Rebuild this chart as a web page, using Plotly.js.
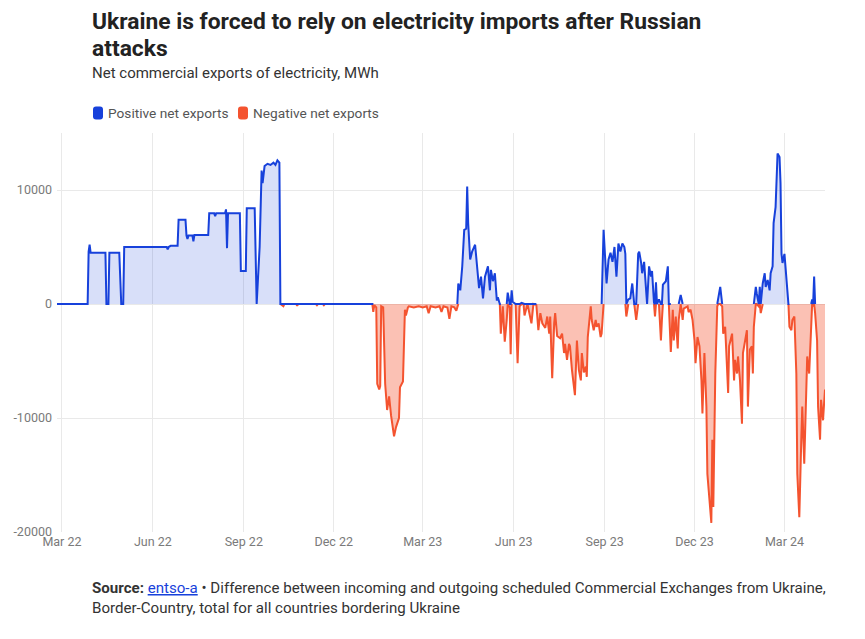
<!DOCTYPE html>
<html>
<head>
<meta charset="utf-8">
<script src="https://cdn.plot.ly/plotly-3.0.1.min.js"></script>
<style>
  html, body { margin: 0; padding: 0; background: #ffffff; }
  #chart { width: 865px; height: 639px; }
</style>
</head>
<body>
<div id="chart"></div>
<script>
// Ukraine net commercial electricity exports (MWh)

const dates = [
  "2022-02-24", "2022-03-27", "2022-03-28", "2022-03-29", "2022-03-30", "2022-04-14", "2022-04-15", "2022-04-17",
  "2022-04-18", "2022-04-28", "2022-04-30", "2022-05-02", "2022-05-03", "2022-06-15", "2022-06-16", "2022-06-17",
  "2022-06-19", "2022-06-26", "2022-06-27", "2022-07-04", "2022-07-05", "2022-07-06", "2022-07-07", "2022-07-11",
  "2022-07-12", "2022-07-13", "2022-07-27", "2022-07-28", "2022-08-02", "2022-08-03", "2022-08-04", "2022-08-13",
  "2022-08-14", "2022-08-15", "2022-08-16", "2022-08-28", "2022-08-29", "2022-09-03", "2022-09-04", "2022-09-12",
  "2022-09-14", "2022-09-17", "2022-09-19", "2022-09-20", "2022-09-22", "2022-09-25", "2022-09-28", "2022-10-01",
  "2022-10-03", "2022-10-05", "2022-10-07", "2022-10-08", "2022-10-11", "2022-10-12", "2022-10-24", "2022-10-25",
  "2022-10-26", "2022-11-13", "2022-11-14", "2022-11-15", "2022-11-20", "2022-11-21", "2022-11-22", "2023-01-09",
  "2023-01-10", "2023-01-11", "2023-01-13", "2023-01-14", "2023-01-16", "2023-01-17", "2023-01-18", "2023-01-20",
  "2023-01-22", "2023-01-24", "2023-01-26", "2023-01-28", "2023-01-31", "2023-02-02", "2023-02-05", "2023-02-06",
  "2023-02-09", "2023-02-11", "2023-02-12", "2023-02-14", "2023-02-15", "2023-02-20", "2023-02-25", "2023-03-01",
  "2023-03-05", "2023-03-07", "2023-03-09", "2023-03-14", "2023-03-18", "2023-03-20", "2023-03-22", "2023-03-26",
  "2023-03-28", "2023-03-30", "2023-04-02", "2023-04-04", "2023-04-05", "2023-04-06", "2023-04-08", "2023-04-10",
  "2023-04-12", "2023-04-14", "2023-04-15", "2023-04-16", "2023-04-18", "2023-04-20", "2023-04-23", "2023-04-25",
  "2023-04-27", "2023-04-29", "2023-05-01", "2023-05-03", "2023-05-06", "2023-05-08", "2023-05-09", "2023-05-11",
  "2023-05-13", "2023-05-15", "2023-05-16", "2023-05-18", "2023-05-19", "2023-05-21", "2023-05-23", "2023-05-25",
  "2023-05-26", "2023-05-28", "2023-05-29", "2023-05-30", "2023-05-31", "2023-06-03", "2023-06-05", "2023-06-07",
  "2023-06-09", "2023-06-11", "2023-06-12", "2023-06-15", "2023-06-19", "2023-06-21", "2023-06-24", "2023-06-26",
  "2023-06-28", "2023-06-30", "2023-07-03", "2023-07-05", "2023-07-07", "2023-07-08", "2023-07-10", "2023-07-12",
  "2023-07-13", "2023-07-15", "2023-07-18", "2023-07-20", "2023-07-22", "2023-07-23", "2023-07-25", "2023-07-27",
  "2023-07-28", "2023-07-30", "2023-08-02", "2023-08-04", "2023-08-06", "2023-08-08", "2023-08-09", "2023-08-11",
  "2023-08-13", "2023-08-14", "2023-08-15", "2023-08-18", "2023-08-19", "2023-08-21", "2023-08-23", "2023-08-24",
  "2023-08-26", "2023-08-28", "2023-08-29", "2023-08-31", "2023-09-03", "2023-09-05", "2023-09-07", "2023-09-09",
  "2023-09-11", "2023-09-13", "2023-09-15", "2023-09-17", "2023-09-19", "2023-09-21", "2023-09-22", "2023-09-23",
  "2023-09-25", "2023-09-27", "2023-09-29", "2023-10-01", "2023-10-02", "2023-10-03", "2023-10-05", "2023-10-06",
  "2023-10-08", "2023-10-09", "2023-10-11", "2023-10-13", "2023-10-14", "2023-10-16", "2023-10-18", "2023-10-19",
  "2023-10-21", "2023-10-22", "2023-10-23", "2023-10-24", "2023-10-26", "2023-10-28", "2023-10-29", "2023-10-30",
  "2023-11-02", "2023-11-04", "2023-11-05", "2023-11-07", "2023-11-09", "2023-11-10", "2023-11-12", "2023-11-14",
  "2023-11-15", "2023-11-17", "2023-11-19", "2023-11-20", "2023-11-24", "2023-11-25", "2023-11-27", "2023-11-29",
  "2023-12-01", "2023-12-02", "2023-12-04", "2023-12-06", "2023-12-08", "2023-12-09", "2023-12-11", "2023-12-13",
  "2023-12-14", "2023-12-16", "2023-12-18", "2023-12-19", "2023-12-20", "2023-12-22", "2023-12-24", "2023-12-25",
  "2023-12-27", "2023-12-29", "2023-12-30", "2024-01-01", "2024-01-03", "2024-01-04", "2024-01-05", "2024-01-08",
  "2024-01-10", "2024-01-11", "2024-01-13", "2024-01-14", "2024-01-16", "2024-01-18", "2024-01-19", "2024-01-21",
  "2024-01-23", "2024-01-24", "2024-01-26", "2024-01-28", "2024-01-29", "2024-01-30", "2024-02-01", "2024-02-02",
  "2024-02-04", "2024-02-05", "2024-02-06", "2024-02-08", "2024-02-10", "2024-02-11", "2024-02-13", "2024-02-15",
  "2024-02-16", "2024-02-18", "2024-02-19", "2024-02-21", "2024-02-23", "2024-02-25", "2024-02-26", "2024-02-27",
  "2024-02-28", "2024-03-01", "2024-03-02", "2024-03-04", "2024-03-05", "2024-03-06", "2024-03-08", "2024-03-09",
  "2024-03-11", "2024-03-13", "2024-03-14", "2024-03-16", "2024-03-18", "2024-03-19", "2024-03-21", "2024-03-23",
  "2024-03-24", "2024-03-26", "2024-03-28", "2024-03-29", "2024-03-30", "2024-03-31", "2024-04-01", "2024-04-03",
  "2024-04-04", "2024-04-06", "2024-04-07", "2024-04-09", "2024-04-11"
];

const netExports = [
  0, 0, 4600, 5200, 4500, 4500, 0, 0,
  4500, 4500, 0, 0, 5000, 5000, 4800, 5000,
  5100, 5100, 7400, 7400, 6000, 5700, 6000, 6000,
  5500, 6050, 6050, 7950, 7950, 7700, 7950, 7950,
  8300, 4900, 7950, 7950, 2900, 2900, 8400, 8400,
  0, 5000, 11700, 10600, 12100, 12300, 12200, 12400,
  12200, 12600, 12400, 0, -200, 0, 0, -150,
  0, 0, -100, 0, 0, -100, 0, 0,
  -700, -100, -300, -7000, -7500, -7200, -200, -300,
  -7000, -9300, -8100, -9800, -11600, -10800, -10000, -7300,
  -6800, -500, -1000, -300, -200, -300, -200, -300,
  -200, -800, -200, -300, -200, -700, -200, -300,
  -1300, -200, -300, -600, -200, 1800, 1200, 3300,
  6500, 6600, 10300, 7100, 3900, 4600, 5200, 3600,
  1400, 2400, 500, 2400, 3300, 1200, 3000, 2000,
  2700, 300, 600, 0, -2600, -200, -3300, -1400,
  1000, -300, -4400, 1200, 200, 0, -5200, -200,
  100, 0, -1000, 0, -1700, 0, -100, -2300,
  -800, -1700, -2100, -1100, -2600, -1100, -6500, -1700,
  -800, -2800, -3000, -2600, -4300, -3500, -4900, -3500,
  -3700, -5800, -8000, -3200, -5800, -6700, -4300, -6000,
  -5500, -6400, -2900, -200, -1400, -2300, -1400, -2000,
  -1700, -2900, -2600, 6500, 1800, 3900, 4500, 3700,
  5000, 2400, 5300, 4600, 5300, 5000, 4400, -1100,
  400, 500, 1800, 0, -900, -1400, 4400, 4600,
  3600, 2700, 3700, 400, 0, 3300, 2400, 2900,
  100, -1100, 1900, 0, 400, -3200, -1400, 1700,
  2000, 3300, 0, -4200, -500, -3200, -1100, -3900,
  -1400, 800, -1400, -400, -200, -700, -500, -1400,
  -3200, -5200, -2900, -3700, -6700, -9600, -4300, -9000,
  -14900, -17200, -19200, -11900, -17800, -6100, -200, 600,
  1500, -200, -2600, -2000, -6100, -7800, -3700, -2600,
  -6700, -4900, -6100, -4600, -6700, -10500, -4300, -3200,
  -2300, -9000, -4000, -3700, -6100, -2000, 1500, 900,
  -200, 1500, -800, 1800, 2700, 1500, 2100, 1200,
  2700, 3300, 7100, 8500, 13200, 12900, 10600, 4400,
  3600, 4400, 3300, 1800, 0, -2000, -2300, -1400,
  -1100, -6100, -14900, -18700, -11900, -9000, -14000, -6100,
  -4600, -6100, -1100, 400, -200, 2400, -800, -3200,
  -9000, -11900, -8400, -10200, -7500
];

const seriesNames = ["Positive net exports", "Negative net exports"];
const yTickVals = [-20000, -10000, 0, 10000];
const yTickText = ["-20000", "-10000", "0", "10000"];

const C = {
  blue: "#1741DB",
  blueFill: "rgba(23,65,219,0.17)",
  red: "#F4532F",
  redFill: "rgba(244,83,47,0.36)",
  ink: "#222222",
  text: "#333333",
  gray: "#7a7a7a",
  grid: "#e9e9e9"
};

const FONT = "Roboto, 'Open Sans', sans-serif";

// split one series into a positive and a negative part, each closed at zero
const pos = netExports.map((v, i) =>
  v >= 0 ? v : (netExports[i - 1] >= 0 || netExports[i + 1] >= 0 ? 0 : null));
const neg = netExports.map((v, i) =>
  v < 0 ? v : (netExports[i - 1] < 0 || netExports[i + 1] < 0 ? 0 : null));

const traces = [
  {
    x: dates, y: neg, name: seriesNames[1],
    mode: "lines", fill: "tozeroy", fillcolor: C.redFill,
    line: { color: C.red, width: 2 }, connectgaps: false, hoverinfo: "skip"
  },
  {
    x: dates, y: pos, name: seriesNames[0],
    mode: "lines", fill: "tozeroy", fillcolor: C.blueFill,
    line: { color: C.blue, width: 2 }, connectgaps: false, hoverinfo: "skip"
  }
];

// plot box in pixels: left 57, right 825, top 133, bottom 532
const px = x => (x - 57) / 768;
const py = y => (532 - y) / 399;

function roundBox(w, h, r) {
  const a = w / 2, b = h / 2;
  return `M ${-a + r},${-b} L ${a - r},${-b} Q ${a},${-b} ${a},${-b + r} L ${a},${b - r} Q ${a},${b} ${a - r},${b} ` +
         `L ${-a + r},${b} Q ${-a},${b} ${-a},${b - r} L ${-a},${-b + r} Q ${-a},${-b} ${-a + r},${-b} Z`;
}

const legendKey = (x, color) => ({
  type: "path", xref: "paper", yref: "paper",
  xsizemode: "pixel", ysizemode: "pixel",
  xanchor: px(x), yanchor: py(113),
  path: roundBox(10, 13, 3),
  fillcolor: color, line: { width: 0 }
});

const note = (x, y, text, size, color) => ({
  xref: "paper", yref: "paper", x: px(x), y: py(y),
  xanchor: "left", yanchor: "middle", showarrow: false, align: "left",
  text: text, font: { family: FONT, size: size, color: color }
});

const layout = {
  width: 865,
  height: 639,
  paper_bgcolor: "#ffffff",
  plot_bgcolor: "#ffffff",
  margin: { l: 57, r: 40, t: 133, b: 107 },
  showlegend: false,
  xaxis: {
    type: "date",
    range: ["2022-02-24", "2024-04-11"],
    tick0: "2022-03-01",
    dtick: "M3",
    tickformat: "%b %y",
    tickfont: { family: FONT, size: 12.5, color: C.gray },
    showgrid: true,
    gridcolor: C.grid,
    gridwidth: 1,
    showline: false,
    zeroline: false,
    ticks: "",
    ticklen: 0
  },
  yaxis: {
    range: [-20000, 15000],
    tickvals: yTickVals,
    ticktext: yTickText,
    tickfont: { family: FONT, size: 12.5, color: C.gray },
    gridcolor: C.grid,
    gridwidth: 1,
    showline: false,
    zeroline: false,
    ticks: "",
    ticklabelstandoff: 4
  },
  shapes: [legendKey(98, C.blue), legendKey(243, C.red)],
  annotations: [
    note(90, 21, "<b>Ukraine is forced to rely on electricity imports after Russian</b>", 22.8, C.ink),
    note(90, 48, "<b>attacks</b>", 22.8, C.ink),
    note(90, 73, "Net commercial exports of electricity, MWh", 15, C.text),
    note(106, 113, seriesNames[0], 13.7, "#555555"),
    note(251, 113, seriesNames[1], 13.7, "#555555"),
    note(90, 588,
      "<b>Source:</b> <span style='color:#1741DB;text-decoration:underline'>entso-a</span>" +
      " • Difference between incoming and outgoing scheduled Commercial Exchanges from Ukraine,",
      15.1, C.text),
    note(90, 608, "Border-Country, total for all countries bordering Ukraine", 15.1, C.text)
  ]
};

Plotly.newPlot("chart", traces, layout, { displayModeBar: false, staticPlot: true });
</script>
</body>
</html>
